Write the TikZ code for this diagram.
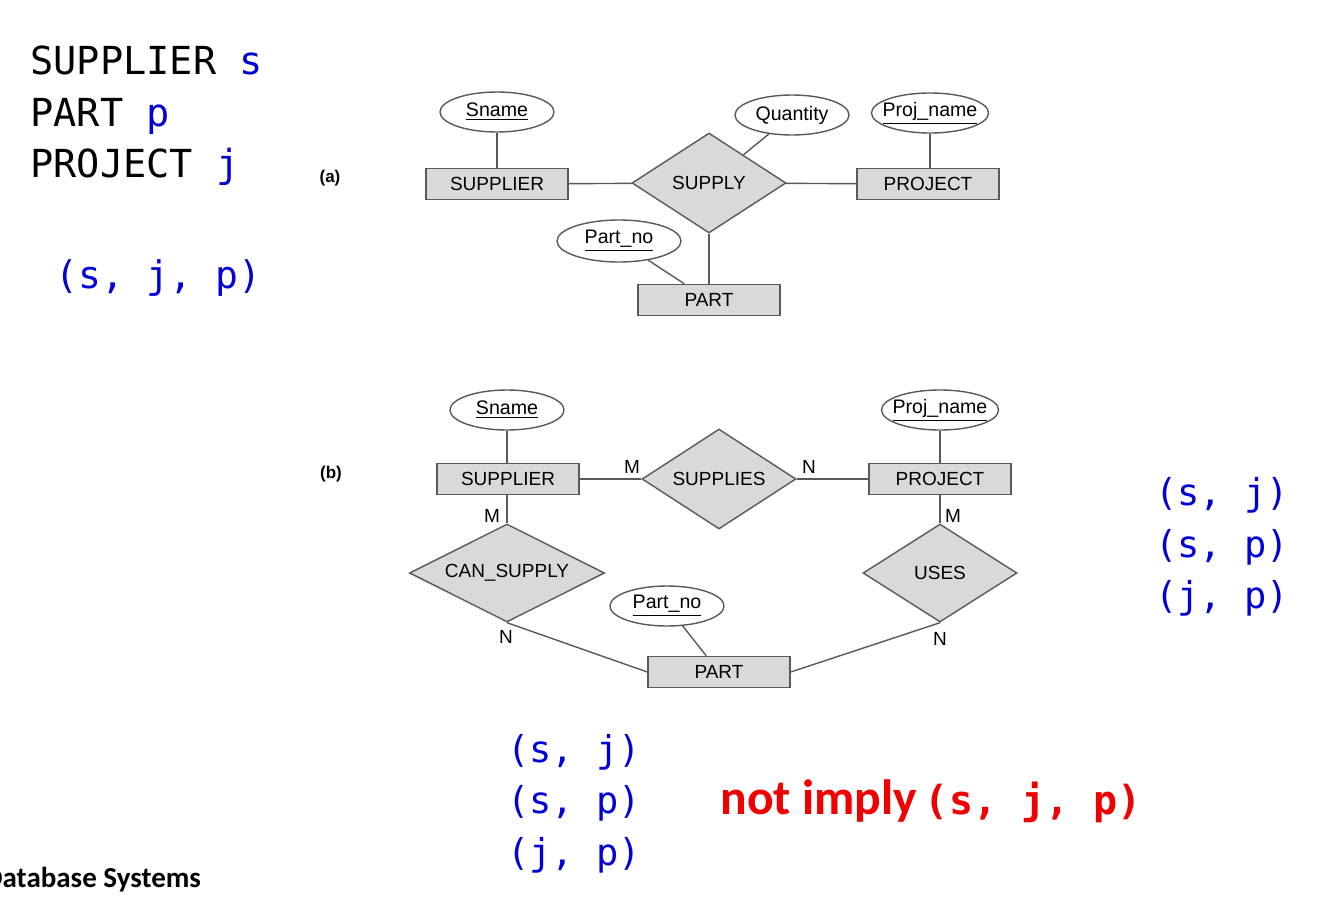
\documentclass[tikz,border=0pt]{standalone}
\usepackage{fontspec}
\setmainfont{Liberation Sans}
\setmonofont{DejaVu Sans Mono}
\newfontfamily\slidefont{Carlito}
\usetikzlibrary{shapes.geometric}
\definecolor{varblue}{RGB}{0,0,215}
\definecolor{warnred}{RGB}{240,0,0}

\begin{document}
\begin{tikzpicture}[x=0.5pt,y=-0.5pt,
        entity/.style={draw=black!65,fill=black!15,line width=0.7pt,inner sep=0pt,
            minimum width=71pt,minimum height=15.5pt,font=\fontsize{9.5}{11}\selectfont},
        relation/.style={diamond,aspect=1.54,draw=black!65,fill=black!15,line width=0.7pt,inner sep=0pt,
            minimum width=77pt,minimum height=50pt,font=\fontsize{9.5}{11}\selectfont},
        attrib/.style={ellipse,draw=black!65,line width=0.7pt,inner ysep=0pt,inner xsep=-3pt,
            minimum width=57pt,minimum height=20pt,font=\fontsize{9.8}{11}\selectfont},
        card/.style={inner sep=0pt,font=\fontsize{9.5}{10}\selectfont},
        tag/.style={inner sep=0pt,font=\bfseries\fontsize{8.5}{10}\selectfont},
        link/.style={draw=black!65,line width=0.7pt},
        code/.style={anchor=base west,inner sep=0pt,font=\ttfamily\fontsize{18.5}{22}\selectfont}]
    \useasboundingbox (0,0) rectangle (1332,905);

    % variables of the three entity types
    \node[code,font=\ttfamily\fontsize{19.3}{22}\selectfont] (varS) at (30,74) {SUPPLIER \textcolor{varblue}{s}};
    \node[code,font=\ttfamily\fontsize{19.3}{22}\selectfont] (varP) at (30,126) {PART \textcolor{varblue}{p}};
    \node[code,font=\ttfamily\fontsize{19.3}{22}\selectfont] (varJ) at (30,177) {PROJECT \textcolor{varblue}{j}};
    \node[code,varblue,font=\ttfamily\fontsize{19}{22}\selectfont] (triple) at (55,288) {(s, j, p)};

    % (a) ternary relationship
    \node[tag] (tagA) at (330,178) {(a)};
    \node[entity] (supA) at (497,184) {SUPPLIER};
    \node[entity] (projA) at (928,184) {PROJECT};
    \node[entity] (partA) at (709,300) {PART};
    \node[relation] (supply) at (709,183) {SUPPLY};
    \node[attrib] (snameA) at (497,112) {\underline{Sname}};
    \node[attrib] (qty) at (792,115) {Quantity};
    \node[attrib] (pnameA) at (930,113) {\underline{Proj\_name}};
    \node[attrib,minimum width=62pt,minimum height=21pt] (pnoA) at (619,241) {\underline{Part\_no}};

    \draw[link] (snameA) -- (supA);
    \draw[link] (pnameA.south) -- (pnameA.south |- projA.north);
    \draw[link] (supA) -- (supply);
    \draw[link] (supply) -- (projA);
    \draw[link] (supply) -- (partA);
    \draw[link] (qty) -- (supply);
    \draw[link] (pnoA) -- (partA);

    % (b) three binary relationships
    \node[tag] (tagB) at (331,474) {(b)};
    \node[entity] (supB) at (508,479) {SUPPLIER};
    \node[entity] (projB) at (940,479) {PROJECT};
    \node[entity] (partB) at (719,672) {PART};
    \node[relation] (supplies) at (719,479) {SUPPLIES};
    \node[relation,aspect=2,minimum width=97.5pt,minimum height=49pt] (cansup) at (507,573) {CAN\_SUPPLY};
    \node[relation,minimum height=49pt] (uses) at (940,573) {USES};
    \node[attrib] (snameB) at (507,410) {\underline{Sname}};
    \node[attrib] (pnameB) at (940,410) {\underline{Proj\_name}};
    \node[attrib] (pnoB) at (667,606) {\underline{Part\_no}};

    \draw[link] (snameB) -- (snameB |- supB.north);
    \draw[link] (pnameB) -- (projB);
    \draw[link] (supB) -- (supplies);
    \draw[link] (supplies) -- (projB);
    \draw[link] (supB.south -| cansup.north) -- (cansup.north);
    \draw[link] (projB) -- (uses);
    \draw[link] (cansup.south) -- (partB.west);
    \draw[link] (uses.south) -- (partB.east);
    \draw[link] (pnoB) -- (partB);

    % cardinalities
    \node[card] (cM1) at (632,467) {M};
    \node[card] (cN1) at (809,467) {N};
    \node[card] (cM2) at (492,516) {M};
    \node[card] (cM3) at (953,516) {M};
    \node[card] (cN2) at (506,637) {N};
    \node[card] (cN3) at (940,639) {N};

    % pairs
    \node[code,varblue] (pairSJr) at (1155,505) {(s, j)};
    \node[code,varblue] (pairSPr) at (1155,557) {(s, p)};
    \node[code,varblue] (pairJPr) at (1155,608) {(j, p)};
    \node[code,varblue] (pairSJ) at (507,762) {(s, j)};
    \node[code,varblue] (pairSP) at (507,813) {(s, p)};
    \node[code,varblue] (pairJP) at (507,865) {(j, p)};
    \node[anchor=base west,inner sep=0pt,text=warnred] (noimply) at (720,814)
        {{\slidefont\bfseries\fontsize{24.8}{26}\selectfont not imply}\hspace{4pt}{\ttfamily\bfseries\fontsize{20}{22}\selectfont(s, j, p)}};

    \node[anchor=base west,inner sep=0pt,font=\slidefont\bfseries\fontsize{14.5}{16}\selectfont] (footer) at (-16,887) {Database Systems};
\end{tikzpicture}
\end{document}
